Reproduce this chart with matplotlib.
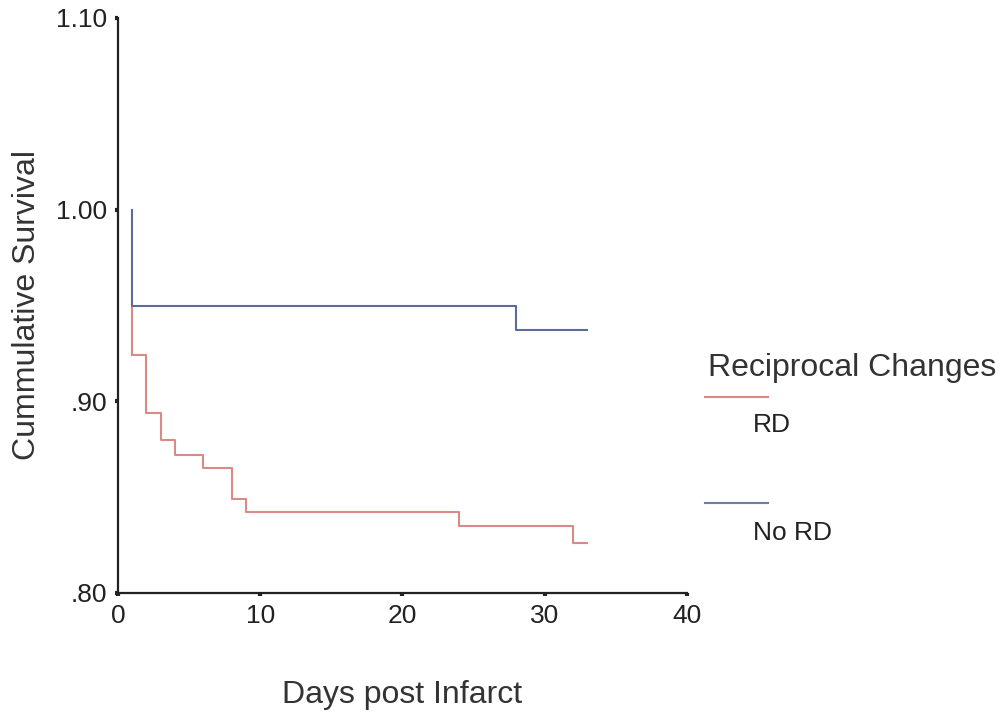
import matplotlib
matplotlib.use("Agg")
import matplotlib.pyplot as plt
from matplotlib.lines import Line2D

plt.rcParams['font.family'] = ['Liberation Sans', 'DejaVu Sans']

# Kaplan-Meier step data (days, cumulative survival)
rd_days = [1, 1, 2, 3, 4, 6, 8, 9, 24, 32, 33]
rd_surv = [1.00, 0.924, 0.894, 0.880, 0.872, 0.865, 0.849, 0.842, 0.835, 0.826, 0.826]
nord_days = [1, 1, 28, 33]
nord_surv = [1.00, 0.950, 0.937, 0.937]

x_ticks = [0, 10, 20, 30, 40]
y_ticks = [0.80, 0.90, 1.00, 1.10]
y_tick_labels = ['.80', '.90', '1.00', '1.10']

legend_title = 'Reciprocal Changes'
series_names = ['RD', 'No RD']
red = '#d98a86'
blue = '#5c6a9c'

fig = plt.figure(figsize=(10.06, 7.14), dpi=100)
ax = fig.add_axes([118/1006, 1 - 593/714, (687-118)/1006, (593-18)/714])

# RD curve: vertical start drawn from survival 0.95 (shared) down
ax.step(rd_days[1:], rd_surv[1:], where='post', color=red, lw=1.5)
ax.plot([rd_days[0], rd_days[1]], [nord_surv[1], rd_surv[1]], color=red, lw=1.5)
ax.step(nord_days, nord_surv, where='post', color=blue, lw=1.5)

ax.set_xlim(0, 40)
ax.set_ylim(0.80, 1.10)
ax.set_xticks(x_ticks)
ax.set_yticks(y_ticks)
ax.set_yticklabels(y_tick_labels)
for s in ['top', 'right']:
    ax.spines[s].set_visible(False)
for s in ['left', 'bottom']:
    ax.spines[s].set_linewidth(1.6)
    ax.spines[s].set_color('#222222')
ax.tick_params(axis='both', direction='out', length=2, width=3, labelsize=19,
               colors='#222222', pad=6)
ax.tick_params(axis='x', pad=6)

ax.set_xlabel('Days post Infarct', fontsize=23, color='#333333', labelpad=37)
ax.set_ylabel('Cummulative Survival', fontsize=23, color='#333333', labelpad=10)

# Legend drawn manually to mimic layout
fig.text(708/1006, 1 - 368/714, legend_title, fontsize=23, color='#333333',
         va='center', ha='left')
fig.add_artist(Line2D([705/1006, 768/1006], [1 - 397/714, 1 - 397/714],
                      color=red, lw=1.5))
fig.text(753/1006, 1 - 425/714, series_names[0], fontsize=19, color='#222222',
         va='center', ha='left')
fig.add_artist(Line2D([705/1006, 768/1006], [1 - 503/714, 1 - 503/714],
                      color='#6a7fa3', lw=1.5))
fig.text(753/1006, 1 - 533/714, series_names[1], fontsize=19, color='#222222',
         va='center', ha='left')

fig.savefig('out.png', dpi=100, facecolor='white')
